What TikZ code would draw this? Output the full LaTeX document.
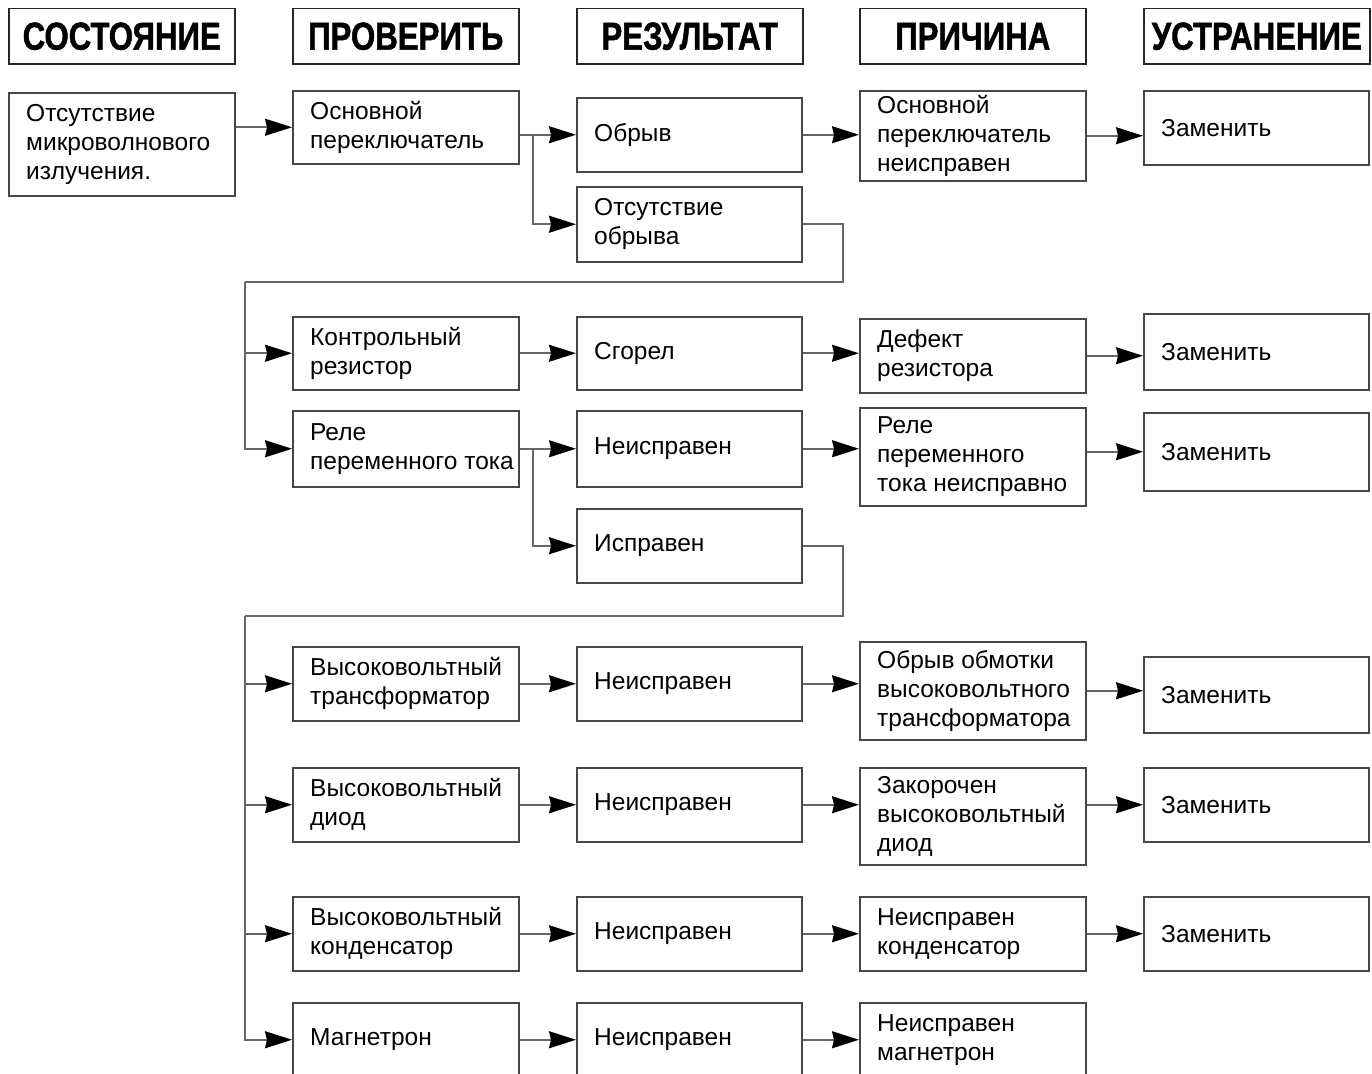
\documentclass[tikz,border=0pt]{standalone}
\usepackage{fontspec}
\setmainfont{Liberation Sans}
\newfontfamily\hdrfont[FakeStretch=0.8,FakeBold=1.2]{Liberation Sans Bold}
\usetikzlibrary{arrows.meta}
\tikzset{
 bx/.style={draw=black!72, line width=1.5pt, inner sep=0pt, anchor=north west},
 tx/.style={anchor=west, align=left, inner sep=0pt, font=\fontsize{24.5}{29}\selectfont},
 hd/.style={bx, draw=black!85, minimum width=226pt, minimum height=55pt, font=\hdrfont\fontsize{39}{39}\selectfont},
 ln/.style={draw=black!60, line width=1.6pt},
 ar/.style={ln, -{Stealth[length=27pt,width=17pt,inset=2pt,black]}},
}
\newcommand\bx[6]{%
 \node[bx, minimum width={(#4-#2)*1pt}, minimum height={(#5-#3)*1pt}] (#1) at (#2,#3) {};
 \node[tx] at ([xshift=18pt]#1.west) {#6};}
\begin{document}
\begin{tikzpicture}[x=1pt,y=-1pt]
\useasboundingbox (0,0) rectangle (1372,1073);
\fill[white] (0,0) rectangle (1372,1073);
\clip (0,0) rectangle (1372,1073);
% headers
\node[hd] (h1) at (8,8) {СОСТОЯНИЕ};
\node[hd] (h2) at (292,8) {ПРОВЕРИТЬ};
\node[hd] (h3) at (576,8) {РЕЗУЛЬТАТ};
\node[hd] (h4) at (859,8) {ПРИЧИНА};
\node[hd] (h5) at (1143,8) {УСТРАНЕНИЕ};
% column 1
\bx{s1}{8}{92}{234}{195}{Отсутствие\\микроволнового\\излучения.}
% column 2
\bx{p1}{292}{90}{518}{163}{Основной\\переключатель}
\bx{p2}{292}{316}{518}{389}{Контрольный\\резистор}
\bx{p3}{292}{410}{518}{486}{Реле\\переменного тока}
\bx{p4}{292}{646}{518}{720}{Высоковольтный\\трансформатор}
\bx{p5}{292}{767}{518}{841}{Высоковольтный\\диод}
\bx{p6}{292}{896}{518}{970}{Высоковольтный\\конденсатор}
\bx{p7}{292}{1002}{518}{1076}{Магнетрон}
% column 3
\bx{r1}{576}{97}{801}{171}{Обрыв}
\bx{r2}{576}{186}{801}{261}{Отсутствие\\обрыва}
\bx{r3}{576}{316}{801}{389}{Сгорел}
\bx{r4}{576}{410}{801}{486}{Неисправен}
\bx{r5}{576}{508}{801}{582}{Исправен}
\bx{r6}{576}{646}{801}{720}{Неисправен}
\bx{r7}{576}{767}{801}{841}{Неисправен}
\bx{r8}{576}{896}{801}{970}{Неисправен}
\bx{r9}{576}{1002}{801}{1076}{Неисправен}
% column 4
\bx{c1}{859}{90}{1085}{180}{Основной\\переключатель\\неисправен}
\bx{c2}{859}{318}{1085}{392}{Дефект\\резистора}
\bx{c3}{859}{407}{1085}{505}{Реле\\переменного\\тока неисправно}
\bx{c4}{859}{641}{1085}{739}{Обрыв обмотки\\высоковольтного\\трансформатора}
\bx{c5}{859}{767}{1085}{864}{Закорочен\\высоковольтный\\диод}
\bx{c6}{859}{896}{1085}{970}{Неисправен\\конденсатор}
\bx{c7}{859}{1002}{1085}{1076}{Неисправен\\магнетрон}
% column 5
\bx{f1}{1143}{90}{1368}{164}{Заменить}
\bx{f2}{1143}{313}{1368}{389}{Заменить}
\bx{f3}{1143}{412}{1368}{490}{Заменить}
\bx{f4}{1143}{656}{1368}{732}{Заменить}
\bx{f5}{1143}{767}{1368}{841}{Заменить}
\bx{f6}{1143}{896}{1368}{970}{Заменить}
% junctions
\coordinate (j1) at (533,134);
\coordinate (j2) at (533,448);
\coordinate (k1) at (843,282);
\coordinate (m1) at (245,282);
\coordinate (k2) at (843,616);
\coordinate (m2) at (245,616);
% connectors
\draw[ar] (s1.east |- p1.west) -- (p1.west);
\draw[ar] (p1.east |- r1.west) -- (r1.west);
\draw[ar] (j1) |- (r2.west);
\draw[ar] (r1.east) -- (r1.east -| c1.west);
\draw[ar] (c1.east) -- (c1.east -| f1.west);
\draw[ln] (r2.east) -| (k1) -- (m1);
\draw[ar] (m1) |- (p2.west);
\draw[ar] (m1) |- (p3.west);
\draw[ar] (p2.east) -- (r3.west);
\draw[ar] (r3.east) -- (r3.east -| c2.west);
\draw[ar] (c2.east) -- (c2.east -| f2.west);
\draw[ar] (p3.east) -- (r4.west);
\draw[ar] (j2) |- (r5.west);
\draw[ar] (r4.east) -- (r4.east -| c3.west);
\draw[ar] (f3.west -| c3.east) -- (f3.west);
\draw[ln] (r5.east) -| (k2) -- (m2);
\draw[ar] (m2) |- (p4.west);
\draw[ar] (m2) |- (p5.west);
\draw[ar] (m2) |- (p6.west);
\draw[ar] (m2) |- (p7.west);
\draw[ar] (p4.east) -- (r6.west);
\draw[ar] (r6.east) -- (r6.east -| c4.west);
\draw[ar] (c4.east) -- (c4.east -| f4.west);
\draw[ar] (p5.east) -- (r7.west);
\draw[ar] (r7.east) -- (r7.east -| c5.west);
\draw[ar] (f5.west -| c5.east) -- (f5.west);
\draw[ar] (p6.east) -- (r8.west);
\draw[ar] (r8.east) -- (c6.west);
\draw[ar] (c6.east) -- (f6.west);
\draw[ar] (p7.east) -- (r9.west);
\draw[ar] (r9.east) -- (c7.west);
\end{tikzpicture}
\end{document}
